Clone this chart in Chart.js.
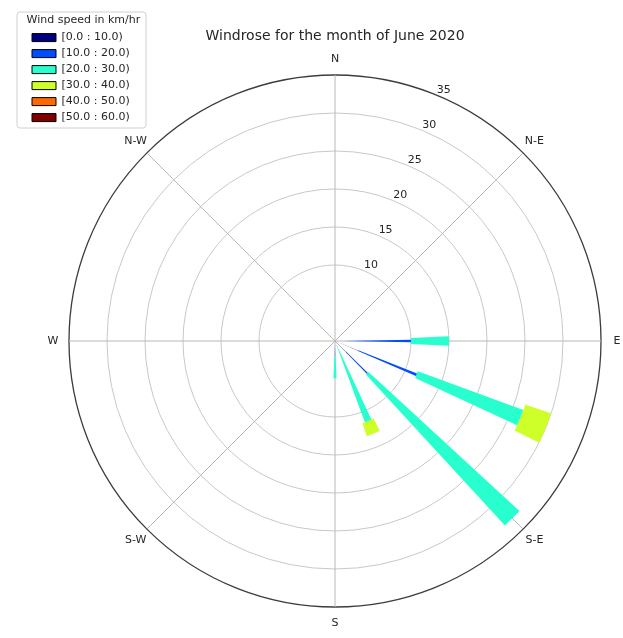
<!DOCTYPE html>
<html>
<head>
<meta charset="utf-8">
<script src="https://cdn.jsdelivr.net/npm/chart.js@4/dist/chart.umd.min.js"></script>
<style>
  html, body { margin: 0; padding: 0; background: #ffffff; }
  canvas { display: block; }
</style>
</head>
<body>
<canvas id="rose" width="623" height="638"></canvas>
<script>
// Sixteen compass sectors, clockwise from north; only the eight main ones are labelled.
const directions = ['N', 'NNE', 'N-E', 'ENE', 'E', 'ESE', 'S-E', 'SSE',
                    'S', 'SSW', 'S-W', 'WSW', 'W', 'WNW', 'N-W', 'NNW'];

// Wind speed classes (km/hr) and their colours.
const speedBins = ['[0.0 : 10.0)', '[10.0 : 20.0)', '[20.0 : 30.0)',
                   '[30.0 : 40.0)', '[40.0 : 50.0)', '[50.0 : 60.0)'];
const binColors = ['#00007f', '#004dff', '#29ffce', '#ceff29', '#ff6800', '#7f0000'];
// Angular width (degrees) of the wedge drawn for each speed class.
const binOpening = [0.6, 1.8, 4.7, 8.0, 8.0, 8.0];

// Frequency (%) per direction for each speed class.
const freq0to10  = [0, 0, 0, 0, 1.0, 3.3, 2.0, 0.5, 1.0, 0, 0, 0, 0, 0, 0, 0];
const freq10to20 = [0, 0, 0, 0, 9.0, 8.3, 4.0, 0.5, 1.0, 0, 0, 0, 0, 0, 0, 0];
const freq20to30 = [0, 0, 0, 0, 5.0, 14.8, 27.0, 10.4, 2.9, 0, 0, 0, 0, 0, 0, 0];
const freq30to40 = [0, 0, 0, 0, 0, 3.6, 0, 1.8, 0, 0, 0, 0, 0, 0, 0, 0];
const freq40to50 = [0, 0, 0, 0, 0, 0, 0, 0, 0, 0, 0, 0, 0, 0, 0, 0];
const freq50to60 = [0, 0, 0, 0, 0, 0, 0, 0, 0, 0, 0, 0, 0, 0, 0, 0];
const frequencies = [freq0to10, freq10to20, freq20to30, freq30to40, freq40to50, freq50to60];

// Labelled radial rings (%).
const radialTicks = [10, 15, 20, 25, 30, 35];
const radialMax = 35;

const FONT = '"DejaVu Sans", "Liberation Sans", sans-serif';
const TEXT = '#262626';

// Polar-area controller variant: each wedge is centred on its sector and
// spans from the previous speed class's cumulative value to its own.
class WindroseController extends Chart.PolarAreaController {
  updateElements(arcs, start, count, mode) {
    super.updateElements(arcs, start, count, mode);
    const scale = this._cachedMeta.rScale;
    const ds = this.getDataset();
    const half = ds.opening * Math.PI / 360;
    for (let i = start; i < start + count; i++) {
      const mid = scale.getIndexAngle(i) - Math.PI / 2;
      const arc = arcs[i];
      arc.startAngle = mid - half;
      arc.endAngle = mid + half;
      arc.innerRadius = scale.getDistanceFromCenterForValue(ds.base[i]);
      arc.outerRadius = scale.getDistanceFromCenterForValue(ds.data[i]);
    }
  }
}
WindroseController.id = 'windrose';
Chart.register(WindroseController);

// Stack the speed classes: each dataset holds its base and its top.
const running = directions.map(() => 0);
const datasets = frequencies.map((freq, b) => {
  const base = running.slice();
  freq.forEach((v, i) => { running[i] += v; });
  return {
    label: speedBins[b],
    data: running.slice(),
    base: base,
    opening: binOpening[b],
    backgroundColor: binColors[b],
    borderWidth: 0
  };
});

// Radial ring labels along 22.5 degrees and compass labels round the rim.
const polarText = {
  id: 'polarText',
  afterDraw(chart) {
    const s = chart.scales.r;
    const ctx = chart.ctx;
    ctx.save();
    ctx.font = '11px ' + FONT;
    ctx.fillStyle = TEXT;
    ctx.textAlign = 'left';
    ctx.textBaseline = 'bottom';
    radialTicks.forEach(v => {
      const p = s.getPointPositionForValue(1, v);
      ctx.fillText(String(v), p.x, p.y);
    });
    ctx.textAlign = 'center';
    ctx.textBaseline = 'middle';
    directions.forEach((d, i) => {
      if (i % 2) return;
      const p = s.getPointPosition(i, s.drawingArea + 16);
      ctx.fillText(d, p.x, p.y);
    });
    ctx.restore();
  }
};

// Put the legend in the top-left corner and give it a light frame.
const legendFrame = {
  id: 'legendFrame',
  afterLayout(chart) {
    const lg = chart.legend;
    const dx = 27 - lg.left, dy = 12 - lg.top;
    lg.left += dx; lg.right += dx; lg.top += dy; lg.bottom += dy;
    (lg.legendHitBoxes || []).forEach(h => { h.left += dx; h.top += dy; });
  },
  beforeDraw(chart) {
    const lg = chart.legend;
    const ctx = chart.ctx;
    const x = lg.left - 10, y = lg.top, w = 129, h = 116, r = 3;
    ctx.save();
    ctx.beginPath();
    ctx.moveTo(x + r, y);
    ctx.arcTo(x + w, y, x + w, y + h, r);
    ctx.arcTo(x + w, y + h, x, y + h, r);
    ctx.arcTo(x, y + h, x, y, r);
    ctx.arcTo(x, y, x + w, y, r);
    ctx.closePath();
    ctx.fillStyle = 'rgba(255,255,255,0.8)';
    ctx.fill();
    ctx.strokeStyle = '#d0d0d0';
    ctx.lineWidth = 1;
    ctx.stroke();
    ctx.restore();
  }
};

new Chart(document.getElementById('rose'), {
  type: 'windrose',
  data: { labels: directions, datasets: datasets },
  plugins: [polarText, legendFrame],
  options: {
    responsive: false,
    animation: false,
    layout: { padding: { top: 11, left: 69, right: 22, bottom: 30 } },
    scales: {
      r: {
        min: 0,
        max: radialMax,
        startAngle: 0,
        z: 1,
        ticks: { display: false, stepSize: 5 },
        grid: {
          circular: true,
          color: ctx => ctx.tick.value === radialMax ? '#3c3c3c'
                      : (ctx.tick.value < radialTicks[0] ? 'rgba(0,0,0,0)' : '#c8c8c8'),
          lineWidth: ctx => ctx.tick.value === radialMax ? 1.3 : 1
        },
        angleLines: {
          display: true,
          color: ctx => ctx.index % 2 === 0 ? '#b8b8b8' : 'rgba(0,0,0,0)',
          lineWidth: ctx => ctx.index % 2 === 0 ? 1 : 0
        },
        pointLabels: { display: false }
      }
    },
    plugins: {
      title: {
        display: true,
        text: 'Windrose for the month of June 2020',
        color: TEXT,
        font: { family: FONT, size: 14, weight: 'normal' },
        padding: { top: 17, bottom: 31 }
      },
      legend: {
        position: 'chartArea',
        align: 'start',
        maxHeight: 116,
        title: {
          display: true,
          text: 'Wind speed in km/hr',
          color: TEXT,
          font: { family: FONT, size: 11, lineHeight: 1.1 },
          padding: { top: 3, bottom: 0 }
        },
        labels: {
          boxWidth: 24,
          boxHeight: 8,
          padding: 5,
          color: TEXT,
          font: { family: FONT, size: 11 },
          generateLabels: chart => chart.data.datasets.map((ds, i) => ({
            text: ds.label,
            fillStyle: ds.backgroundColor,
            strokeStyle: '#000000',
            lineWidth: 1,
            hidden: false,
            datasetIndex: i
          }))
        }
      },
      tooltip: { enabled: false }
    }
  }
});
</script>
</body>
</html>
